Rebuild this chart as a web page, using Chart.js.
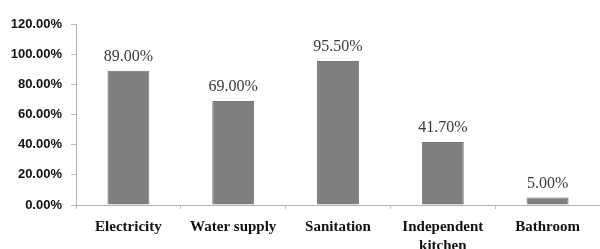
<!DOCTYPE html>
<html>
<head>
<meta charset="utf-8">
<script src="https://cdn.jsdelivr.net/npm/chart.js@4.4.2/dist/chart.umd.min.js"></script>
<style>
  html, body { margin: 0; padding: 0; background: #fff; }
  #wrap { width: 600px; height: 249px; }
</style>
</head>
<body>
<div id="wrap"><canvas id="chart-amenities"></canvas></div>
<script>
const categories = ['Electricity', 'Water supply', 'Sanitation', ['Independent', 'kitchen'], 'Bathroom'];
const shares = [89.0, 69.0, 95.5, 41.7, 5.0];
const yTicks = [0, 20, 40, 60, 80, 100, 120];

// draws the value above each bar (no datalabels plugin available)
const valueLabels = {
    id: 'valueLabels',
    afterDatasetsDraw(chart) {
        const ctx = chart.ctx;
        const meta = chart.getDatasetMeta(0);
        ctx.save();
        ctx.font = '16px "Liberation Serif", "Times New Roman", serif';
        ctx.fillStyle = '#3a3a3a';
        ctx.textAlign = 'center';
        ctx.textBaseline = 'bottom';
        meta.data.forEach((bar, i) => {
            ctx.fillText(shares[i].toFixed(2) + '%', bar.x, bar.y - 6);
        });
        ctx.restore();
    }
};

new Chart(document.getElementById('chart-amenities'), {
    type: 'bar',
    data: {
        labels: categories,
        datasets: [{
            data: shares,
            backgroundColor: '#7f7f7f',
            borderColor: '#767676',
            borderWidth: 1,
            categoryPercentage: 0.8,
            barPercentage: 0.5
        }]
    },
    options: {
        responsive: true,
        maintainAspectRatio: false,
        animation: false,
        layout: { padding: { top: 24, right: 0, bottom: 0, left: 0 } },
        plugins: {
            legend: { display: false },
            tooltip: { enabled: false }
        },
        scales: {
            x: {
                grid: {
                    offset: true,
                    drawOnChartArea: false,
                    drawTicks: true,
                    tickLength: 4,
                    color: '#bdbdbd'
                },
                border: { color: '#b5b5b5', width: 1 },
                ticks: {
                    padding: 8,
                    color: '#111',
                    maxRotation: 0,
                    autoSkip: false,
                    font: { family: '"Liberation Serif", "Times New Roman", serif', size: 15, weight: 'bold', lineHeight: 1.3 }
                },
                afterFit(scale) { scale.height = 44; }
            },
            y: {
                min: 0,
                max: 120,
                afterBuildTicks(scale) { scale.ticks = yTicks.map(v => ({ value: v })); },
                grid: {
                    drawOnChartArea: false,
                    drawTicks: true,
                    tickLength: 5,
                    color: '#bdbdbd'
                },
                border: { color: '#b5b5b5', width: 1 },
                ticks: {
                    padding: 9,
                    color: '#111',
                    font: { family: '"Liberation Sans", Arial, sans-serif', size: 13, weight: 'bold' },
                    callback: v => v.toFixed(2) + '%'
                },
                afterFit(scale) { scale.width = 76; }
            }
        }
    },
    plugins: [valueLabels]
});
</script>
</body>
</html>
